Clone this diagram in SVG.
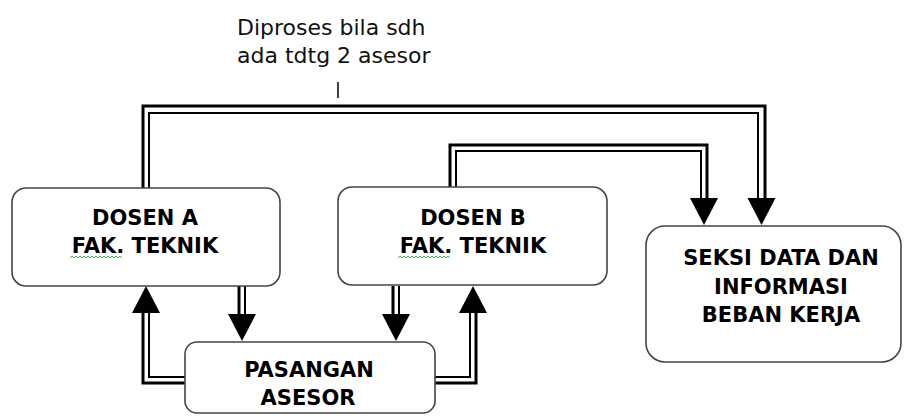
<svg xmlns="http://www.w3.org/2000/svg" width="904" height="416" viewBox="0 0 904 416">
<style>
.box{fill:#fff;stroke:#444;stroke-width:1.6}
.lbl{font-family:"DejaVu Sans",Verdana,sans-serif;font-weight:bold;font-size:21px;fill:#000;text-anchor:middle}
.note{font-family:"DejaVu Sans",Verdana,sans-serif;font-size:22px;fill:#111}
.thick{fill:none;stroke:#000;stroke-width:3;stroke-linejoin:miter}
.thin{fill:none;stroke:#000;stroke-width:2;stroke-linejoin:miter}
.ah{fill:#000}
.squig{fill:none;stroke:#3cb043;stroke-width:1}
</style>
<defs>
<polygon id="down" points="-14,0 14,0 0,27"/>
<polygon id="up" points="-14,0 14,0 0,-27"/>
<path id="wave" d="M0,0 l2,-2 l2,2 l2,-2 l2,2 l2,-2 l2,2 l2,-2 l2,2 l2,-2 l2,2 l2,-2 l2,2 l2,-2 l2,2 l2,-2 l2,2 l2,-2 l2,2 l2,-2 l2,2 l2,-2 l2,2 l2,-2 l2,2 l2,-2 l2,2"/>
</defs>
<rect width="904" height="416" fill="#fff"/>

<g id="note">
<text class="note" x="237" y="35">Diproses bila sdh</text>
<text class="note" x="237" y="63">ada tdtg 2 asesor</text>
<line x1="338" y1="82" x2="338" y2="98" stroke="#000" stroke-width="1.5"/>
</g>

<g id="connectors">
<path class="thick" d="M143,188 V106 H765 V198"/>
<path class="thin" d="M149,188 V113 H758 V198"/>
<use href="#down" class="ah" x="761.5" y="198"/>

<path class="thick" d="M450,187 V145 H707 V198"/>
<path class="thin" d="M456,187 V151 H701 V198"/>
<use href="#down" class="ah" x="704" y="198"/>

<path class="thick" d="M239,286 V314"/>
<path class="thin" d="M245,286 V314"/>
<use href="#down" class="ah" x="242" y="314"/>

<path class="thick" d="M393,286 V314"/>
<path class="thin" d="M399,286 V314"/>
<use href="#down" class="ah" x="396" y="314"/>

<path class="thick" d="M186,383 H143 V312"/>
<path class="thin" d="M186,377 H149 V312"/>
<use href="#up" class="ah" x="146" y="313"/>

<path class="thin" d="M435,377 H470 V312"/>
<path class="thick" d="M435,383 H476 V312"/>
<use href="#up" class="ah" x="473" y="313"/>
</g>

<g id="dosenA">
<rect class="box" x="12" y="188" width="268" height="98" rx="14"/>
<text class="lbl" x="145" y="225">DOSEN A</text>
<text class="lbl" x="145" y="253">FAK. TEKNIK</text>
<use href="#wave" class="squig" x="70" y="258"/>
</g>

<g id="dosenB">
<rect class="box" x="338" y="187" width="269" height="98" rx="14"/>
<text class="lbl" x="473" y="225">DOSEN B</text>
<text class="lbl" x="473" y="253">FAK. TEKNIK</text>
<use href="#wave" class="squig" x="398" y="258"/>
</g>

<g id="seksi">
<rect class="box" x="646" y="226" width="255" height="136" rx="19"/>
<text class="lbl" x="781" y="265">SEKSI DATA DAN</text>
<text class="lbl" x="781" y="294">INFORMASI</text>
<text class="lbl" x="781" y="322">BEBAN KERJA</text>
</g>

<g id="pasangan">
<rect class="box" x="185" y="342" width="250" height="71" rx="12"/>
<text class="lbl" x="309" y="377">PASANGAN</text>
<text class="lbl" x="308" y="405">ASESOR</text>
</g>
</svg>
